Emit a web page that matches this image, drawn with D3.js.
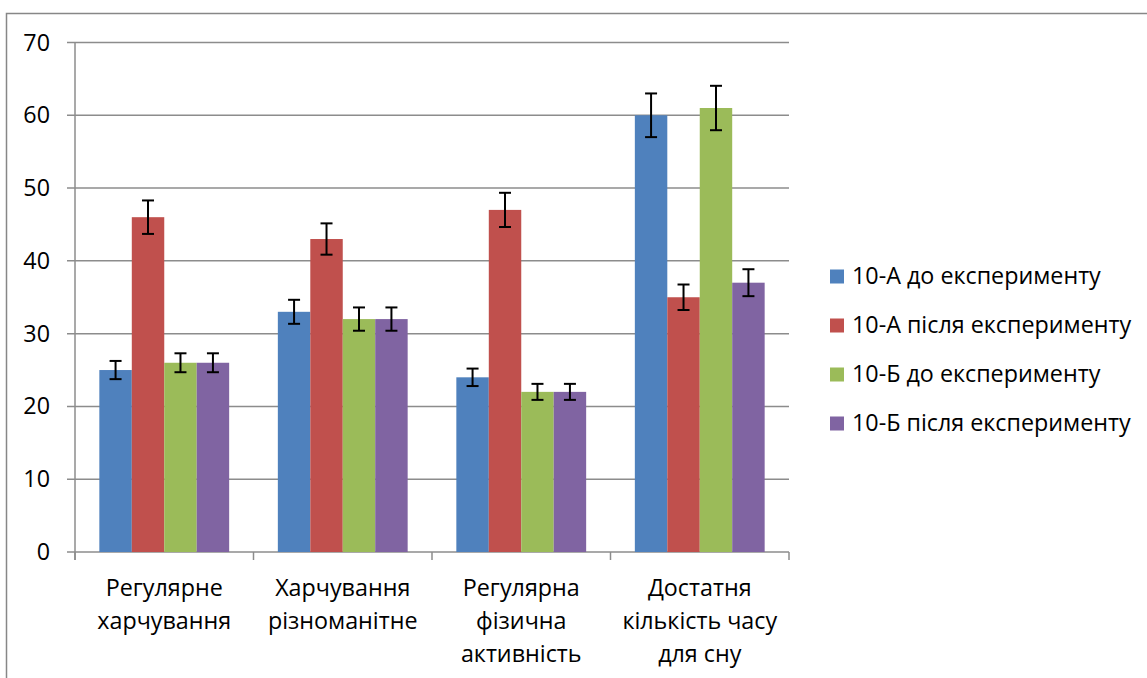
<!DOCTYPE html>
<html><head><meta charset="utf-8">
<script src="https://cdn.jsdelivr.net/npm/d3@7"></script>
<style>body{margin:0;background:#fff}svg{display:block}text{font-family:"Open Sans",Lato,sans-serif;fill:#000}</style>
</head><body><svg id="c" width="1147" height="678"></svg>
<script>
const categories = [["Регулярне","харчування"],["Харчування","різноманітне"],["Регулярна","фізична","активність"],["Достатня","кількість часу","для сну"]];
const seriesNames = ["10-А до експерименту","10-А після експерименту","10-Б до експерименту","10-Б після експерименту"];
const s10Abefore = [25,33,24,60];
const s10Aafter = [46,43,47,35];
const s10Bbefore = [26,32,22,61];
const s10Bafter = [26,32,22,37];
const errorPct = 0.05;
const colors = ["#4F81BD","#C0504D","#9BBB59","#8064A2"];
const yTicks = [0,10,20,30,40,50,60,70];
const series = [s10Abefore,s10Aafter,s10Bbefore,s10Bafter];
const FS = 23.3;

const svg = d3.select("#c");
svg.append("rect").attr("x",6.5).attr("y",13.5).attr("width",1200).attr("height",700).attr("fill","none").attr("stroke","#878787").attr("stroke-width",1.5);

const L=75, R=789, T=42.5, B=552;
const x0 = d3.scaleBand().domain(d3.range(categories.length)).range([L,R]).paddingInner(0).paddingOuter(0);
const x1 = d3.scaleBand().domain(d3.range(series.length)).range([0,x0.bandwidth()]).paddingOuter(0.75).paddingInner(0);
const y = d3.scaleLinear().domain([0,70]).range([B,T]);

svg.append("g").selectAll("line").data(yTicks).join("line")
  .attr("x1",L-8).attr("x2",R).attr("y1",d=>y(d)).attr("y2",d=>y(d))
  .attr("stroke","#8c8c8c").attr("stroke-width",1.5);
svg.append("g").selectAll("text").data(yTicks).join("text")
  .attr("x",50).attr("y",d=>y(d)+8).attr("text-anchor","end")
  .attr("font-size",FS).text(d=>d);

const g = svg.append("g");
series.forEach((vals,si)=>{
  g.selectAll(null).data(vals).join("rect")
    .attr("x",(d,i)=>x0(i)+x1(si)).attr("width",x1.bandwidth())
    .attr("y",d=>y(d)).attr("height",d=>B-y(d)).attr("fill",colors[si]);
});
series.forEach((vals,si)=>{
  vals.forEach((v,i)=>{
    const cx = x0(i)+x1(si)+x1.bandwidth()/2;
    const e = v*errorPct;
    const eg = svg.append("g").attr("stroke","#000").attr("stroke-width",2);
    eg.append("line").attr("x1",cx).attr("x2",cx).attr("y1",y(v+e)).attr("y2",y(v-e));
    eg.append("line").attr("x1",cx-6).attr("x2",cx+6).attr("y1",y(v+e)).attr("y2",y(v+e));
    eg.append("line").attr("x1",cx-6).attr("x2",cx+6).attr("y1",y(v-e)).attr("y2",y(v-e));
  });
});

svg.append("line").attr("x1",L).attr("x2",L).attr("y1",T).attr("y2",B+8).attr("stroke","#8c8c8c").attr("stroke-width",1.5);
svg.append("g").selectAll("line").data(d3.range(categories.length+1)).join("line")
  .attr("x1",d=>L+d*x0.bandwidth()).attr("x2",d=>L+d*x0.bandwidth())
  .attr("y1",B).attr("y2",B+8).attr("stroke","#8c8c8c").attr("stroke-width",1.5);

categories.forEach((lines,i)=>{
  const t = svg.append("text").attr("text-anchor","middle").attr("font-size",FS);
  lines.forEach((ln,j)=>{
    t.append("tspan").attr("x",x0(i)+x0.bandwidth()/2).attr("y",596+j*32.8).text(ln);
  });
});

const lg = svg.append("g");
seriesNames.forEach((n,i)=>{
  const yy = 276.5+i*49;
  lg.append("rect").attr("x",830).attr("y",yy-7).attr("width",14).attr("height",14).attr("fill",colors[i]);
  lg.append("text").attr("x",852).attr("y",yy+7.5).attr("font-size",FS).text(n);
});
</script></body></html>
